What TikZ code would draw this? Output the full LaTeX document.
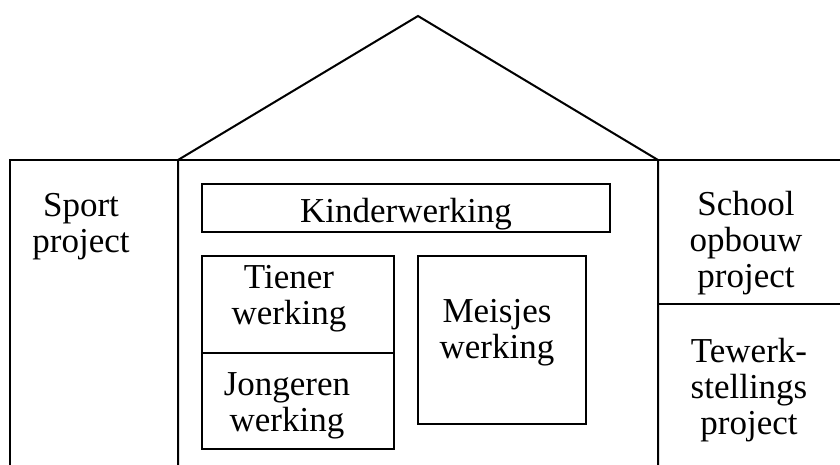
\documentclass[tikz,border=0pt]{standalone}
\usepackage{fontspec}
\setmainfont{Liberation Serif}
\begin{document}
\begin{tikzpicture}[x=1pt,y=-1pt,
  wall/.style={draw=black,line width=2pt,line cap=rect},
  lbl/.style={align=center,anchor=base,inner sep=0pt,font=\fontsize{35}{36}\selectfont}]
\useasboundingbox (0,0) rectangle (840,464);
% house outline
\draw[wall] (10,464) -- (10,160) -- (840,160);
\draw[wall] (178,464) -- (178,160) -- (418,16) -- (658,160) -- (658,464);
\draw[wall] (658,304) -- (840,304);
% inner boxes
\draw[wall] (202,184) rectangle (610,232);
\draw[wall] (202,256) rectangle (394,449);
\draw[wall] (202,353) -- (394,353);
\draw[wall] (418,256) rectangle (586,424);
% labels (anchor = baseline of the last line)
\node[lbl] (sport) at (81,252) {Sport\\project};
\node[lbl] (school) at (746,287) {School\\opbouw\\project};
\node[lbl] (tewerk) at (749,434) {Tewerk-\\stellings\\project};
\node[lbl] (kinder) at (406,222) {Kinderwerking};
\node[lbl] (tiener) at (289,324) {Tiener\\werking};
\node[lbl] (jonger) at (287,431) {Jongeren\\werking};
\node[lbl] (meisjes) at (497,358) {Meisjes\\werking};
\end{tikzpicture}
\end{document}
